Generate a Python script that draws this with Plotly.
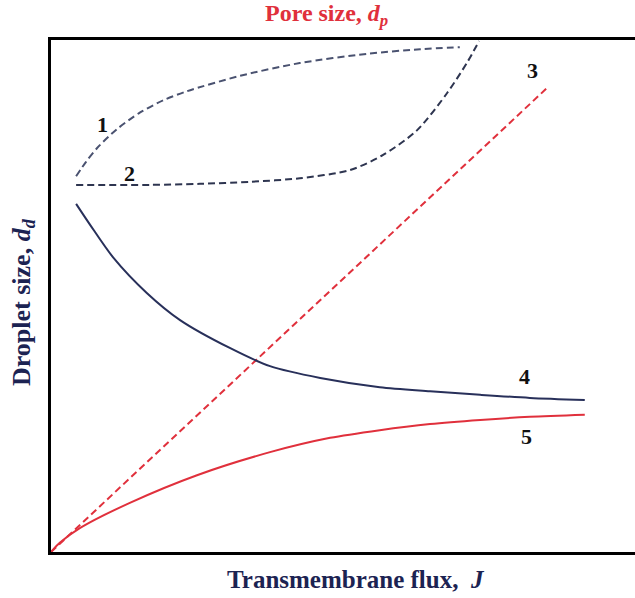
import plotly.graph_objects as go

# Curve 1 (dashed, pore size effect, rising concave)
c1_x = [4.3, 6.0, 7.9, 11.3, 15.2, 19.2, 23.3, 32.4, 42.6, 54.1, 63.2, 70.0]
c1_y = [73.4, 76.2, 78.9, 82.6, 85.8, 88.2, 90.0, 93.0, 95.5, 97.3, 98.2, 98.6]
# Curve 2 (dashed, flat then steep rise)
c2_x = [4.3, 17.0, 25.5, 34.1, 42.6, 51.2, 56.8, 62.7, 67.8, 71.2, 73.3]
c2_y = [71.7, 71.7, 71.9, 72.3, 73.0, 74.6, 77.5, 82.4, 89.6, 95.5, 99.8]
# Curve 3 (red dashed straight line)
c3_x = [0.0, 85.1]
c3_y = [0.0, 90.8]
# Curve 4 (navy solid, decreasing)
c4_x = [4.3, 6.7, 10.6, 16.4, 22.1, 30.7, 37.5, 46.1, 56.3, 64.9, 73.5, 82.0, 91.4]
c4_y = [68.0, 63.9, 57.6, 50.6, 45.3, 39.8, 36.3, 34.0, 32.2, 31.4, 30.7, 30.1, 29.7]
# Curve 5 (red solid, increasing)
c5_x = [0.0, 1.5, 5.0, 13.5, 25.0, 37.5, 47.8, 56.3, 64.9, 73.5, 82.0, 91.4]
c5_y = [0.0, 1.8, 4.7, 9.6, 15.0, 19.5, 22.3, 23.8, 25.0, 25.8, 26.4, 26.8]

label_text = ["1", "2", "3", "4", "5"]
label_x = [8.8, 13.4, 82.5, 81.0, 81.5]
label_y = [83.4, 74.0, 94.1, 34.2, 22.5]

title_text = "Pore size, <i>d<sub>p</sub></i>"
xlabel_text = "Transmembrane flux,  <i>J</i>"
ylabel_text = "Droplet size, <i>d<sub>d</sub></i>"

RED = "#e0303c"
NAVY = "#28305a"
SLATE = "#4a5270"
DARK_DASH = "#2e3550"
SERIF = "Liberation Serif, Times New Roman, serif"
DASH = "7px,4px"

W, H = 635, 598
L, R, T, B = 51, 0, 40, 46
PW, PH = W - L - R, H - T - B

fig = go.Figure()
fig.add_trace(go.Scatter(x=c1_x, y=c1_y, mode="lines", line=dict(color=SLATE, width=2, dash=DASH, shape="spline", smoothing=0.8)))
fig.add_trace(go.Scatter(x=c2_x, y=c2_y, mode="lines", line=dict(color=DARK_DASH, width=2, dash=DASH, shape="spline", smoothing=0.8)))
fig.add_trace(go.Scatter(x=c3_x, y=c3_y, mode="lines", line=dict(color=RED, width=2, dash=DASH)))
fig.add_trace(go.Scatter(x=c4_x, y=c4_y, mode="lines", line=dict(color=NAVY, width=2, shape="spline", smoothing=0.8)))
fig.add_trace(go.Scatter(x=c5_x, y=c5_y, mode="lines", line=dict(color=RED, width=2, shape="spline", smoothing=0.8)))

for t, x, y in zip(label_text, label_x, label_y):
    fig.add_annotation(x=x, y=y, xref="x", yref="y", text="<b>%s</b>" % t, showarrow=False,
                       font=dict(family=SERIF, size=22, color="#111111", weight="bold"))

# title (red, above plot)
fig.add_annotation(x=(326 - L) / PW, y=1 + (T - 15) / PH, xref="paper", yref="paper",
                   xanchor="center", yanchor="middle", text="<b>" + title_text + "</b>", showarrow=False,
                   font=dict(family=SERIF, size=24, color=RED, weight="bold"))
# x label
fig.add_annotation(x=(356 - L) / PW, y=-(579 - (H - B)) / PH, xref="paper", yref="paper",
                   xanchor="center", yanchor="middle", text="<b>" + xlabel_text + "</b>", showarrow=False,
                   font=dict(family=SERIF, size=25, color="#1c2352", weight="bold"))
# y label
fig.add_annotation(x=-(L - 23) / PW, y=(H - B - 302) / PH, xref="paper", yref="paper",
                   xanchor="center", yanchor="middle", textangle=-90, text="<b>" + ylabel_text + "</b>",
                   showarrow=False, font=dict(family=SERIF, size=26, color="#1c2352", weight="bold"))

fig.update_layout(
    width=W, height=H,
    margin=dict(l=L, r=R, t=T, b=B, autoexpand=False),
    paper_bgcolor="white", plot_bgcolor="white",
    showlegend=False,
)

fig.update_xaxes(range=[0, 100], showline=True, linecolor="black", linewidth=3, mirror=True,
                 showticklabels=False, ticks="", showgrid=False, zeroline=False, automargin=False)
fig.update_yaxes(range=[0, 100], showline=True, linecolor="black", linewidth=3, mirror=False,
                 showticklabels=False, ticks="", showgrid=False, zeroline=False, automargin=False)

fig.write_html("out.html", config={"displayModeBar": False},
               post_script="document.body.style.margin='0';document.body.style.overflow='hidden';")
